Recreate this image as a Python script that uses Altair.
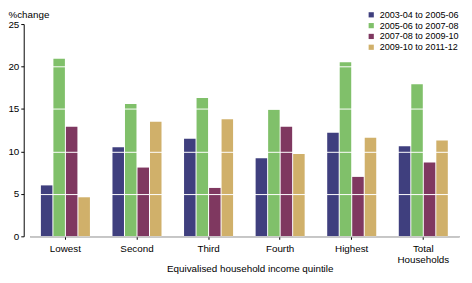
import altair as alt
import pandas as pd

categories = ["Lowest", "Second", "Third", "Fourth", "Highest", "Total Households"]
periods = ["2003-04 to 2005-06", "2005-06 to 2007-08", "2007-08 to 2009-10", "2009-10 to 2011-12"]
p1 = [6.0, 10.5, 11.5, 9.2, 12.2, 10.6]
p2 = [20.9, 15.6, 16.3, 14.9, 20.5, 17.9]
p3 = [12.9, 8.1, 5.7, 12.9, 7.0, 8.7]
p4 = [4.6, 13.5, 13.8, 9.7, 11.6, 11.3]
colors = ["#3F3F7E", "#80C06A", "#7F3860", "#D0B06A"]

rows = []
for per, vals in zip(periods, [p1, p2, p3, p4]):
    for c, v in zip(categories, vals):
        rows.append({"quintile": c, "period": per, "value": v})
df = pd.DataFrame(rows)

font = "Liberation Sans"

chart = alt.Chart(df).mark_bar().encode(
    x=alt.X("quintile:N", sort=categories,
            scale=alt.Scale(paddingInner=0.315, paddingOuter=0.1575),
            axis=alt.Axis(title="Equivalised household income quintile", labelAngle=0,
                          labelFontSize=10, titleFontSize=10, titleFontWeight="normal",
                          labelColor="black", titleColor="black", domainColor="black",
                          tickColor="black", tickSize=3, labelPadding=4, titlePadding=-1,
                          titleX=224, titleAlign="center",
                          labelExpr="datum.label == 'Total Households' ? ['Total', 'Households'] : datum.label")),
    xOffset=alt.XOffset("period:N", sort=periods, scale=alt.Scale(paddingInner=0.08)),
    y=alt.Y("value:Q", scale=alt.Scale(domain=[0, 25]),
            axis=alt.Axis(title="%change", values=[0, 5, 10, 15, 20, 25], titleAngle=0,
                          titleAlign="left", titleBaseline="alphabetic", titleX=-16, titleY=-7,
                          titleFontSize=10, titleFontWeight="normal", titleColor="black",
                          labelFontSize=10, labelColor="black", domainColor="black",
                          tickColor="black", tickSize=3, labelPadding=2, offset=6,
                          grid=True, gridColor="white", gridWidth=1, zindex=1)),
    color=alt.Color("period:N", sort=periods,
                    scale=alt.Scale(domain=periods, range=colors),
                    legend=alt.Legend(title=None, orient="none", legendX=343, legendY=-14,
                                      symbolType="square", symbolSize=28, labelFontSize=9.2,
                                      labelColor="black", rowPadding=1, labelOffset=4,
                                      symbolStrokeWidth=0, zindex=2)),
).properties(
    width=437, height=216,
    autosize=alt.AutoSizeParams(type="none"),
    padding={"left": 22, "top": 14, "right": 5, "bottom": 37},
).configure(font=font).configure_view(stroke=None)

chart.save("out.html", embed_options={"renderer": "svg", "actions": False})
